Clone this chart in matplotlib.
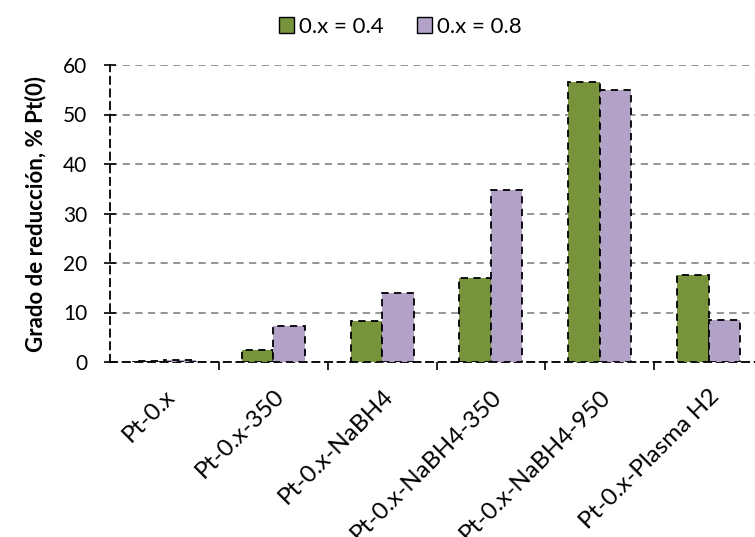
import matplotlib
matplotlib.use("Agg")
import matplotlib.pyplot as plt
import numpy as np

categories = ["Pt-0.x", "Pt-0.x-350", "Pt-0.x-NaBH4", "Pt-0.x-NaBH4-350", "Pt-0.x-NaBH4-950", "Pt-0.x-Plasma H2"]
series_04 = [0.3, 2.5, 8.3, 17.0, 56.5, 17.6]
series_08 = [0.5, 7.2, 14.0, 34.7, 55.0, 8.5]
labels = ["0.x = 0.4", "0.x = 0.8"]
colors = ["#77933C", "#B3A2C7"]
yticks = [0, 10, 20, 30, 40, 50, 60]

plt.rcParams['font.family'] = ['Lato', 'DejaVu Sans']

fig = plt.figure(figsize=(7.55, 5.37), dpi=100)
ax = fig.add_axes([110/755, 1-362/537, 653/755, (362-65)/537])

x = np.arange(len(categories))
w = 0.29
for i, (vals, lab, c) in enumerate(zip([series_04, series_08], labels, colors)):
    ax.bar(x + (i - 0.5) * w, vals, width=w, color=c, edgecolor="black",
           linestyle=(0, (4, 3)), linewidth=1.3, label=lab, zorder=3)

ax.set_xlim(-0.5, len(categories) - 0.5)
ax.set_ylim(0, 60)
ax.set_yticks(yticks)
ax.yaxis.grid(True, color="#8c8c8c", linestyle=(0, (4, 3)), linewidth=1.3, zorder=0)
ax.set_axisbelow(True)

for s in ["top", "right"]:
    ax.spines[s].set_visible(False)
for s in ["left", "bottom"]:
    ax.spines[s].set_linestyle((0, (4, 3)))
    ax.spines[s].set_linewidth(1.3)
    ax.spines[s].set_color("black")

ax.set_xticks(np.arange(1, len(categories)) - 0.5, minor=False)
ax.set_xticklabels([])
ax.tick_params(axis="x", which="major", length=6, width=1.2, direction="out")
ax.set_xticks(x, minor=True)
ax.set_xticklabels(categories, minor=True, rotation=45, ha="right", va="top",
                   rotation_mode="anchor", fontsize=17.5)
ax.tick_params(axis="x", which="minor", length=0, pad=17)
ax.tick_params(axis="y", length=9, width=1.2, direction="inout", labelsize=15, pad=12)

ax.set_ylabel("Grado de reducción, % Pt(0)", fontsize=16, fontweight="bold", labelpad=12)

leg = fig.legend(loc="center", bbox_to_anchor=(400/755, 1 - 27/537), ncol=2, frameon=False,
                 fontsize=16, handlelength=0.7, handleheight=0.7, handletextpad=0.2, columnspacing=1.5)
for h in leg.legend_handles:
    h.set_linestyle("-")
    h.set_linewidth(1.0)

fig.savefig("out.png", dpi=100)
